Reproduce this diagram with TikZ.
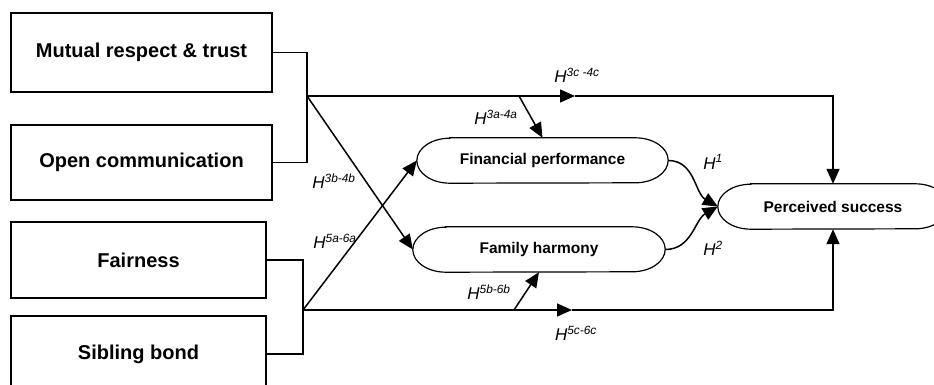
\documentclass[tikz,border=0pt]{standalone}
\usepackage{fontspec}
\setmainfont{Liberation Sans}
\usepackage{tikz}
\usetikzlibrary{positioning, arrows.meta}

\begin{document}
\begin{tikzpicture}[x=1pt, y=-1pt,
  factor/.style={draw, line width=1.2pt, minimum width=#1, inner sep=0pt, font=\fontsize{20}{23}\selectfont\bfseries},
  outcome/.style={minimum width=#1, minimum height=45pt, inner sep=0pt, font=\fontsize{15.5}{18}\selectfont\bfseries},
  hyp/.style={inner sep=0pt, font=\fontsize{17}{20}\selectfont\itshape},
  link/.style={line width=1.2pt},
  arr/.style={line width=1.5pt, -{Triangle[length=15pt,width=13pt]}}]
\useasboundingbox (0,0) rectangle (934,385);
\clip (0,0) rectangle (934,385);
% antecedents
\node [factor=261pt, minimum height=79pt] (mrt) at (141.5, 52.5) {Mutual respect \& trust};
\node [factor=261pt, minimum height=75pt] (oc) at (141.5, 162.5) {Open communication};
\node [factor=255pt, minimum height=76pt] (fair) at (138.5, 260) {Fairness};
\node [factor=255pt, minimum height=76pt] (sib) at (138.5, 354) {Sibling bond};
% outcomes
\node [outcome=251pt] (fp) at (542.5, 160.5) {Financial performance};
\node [outcome=252pt] (fh) at (539, 249.5) {Family harmony};
\node [outcome=230pt] (ps) at (833, 206.5) {Perceived success};
\foreach \n in {fp, fh, ps}
  \draw [link] ([xshift=33pt]\n.north west) -- ([xshift=-33pt]\n.north east)
    arc [start angle=90, end angle=-90, x radius=33pt, y radius=22.5pt]
    -- ([xshift=33pt]\n.south west)
    arc [start angle=270, end angle=90, x radius=33pt, y radius=22.5pt] -- cycle;
% junctions
\coordinate (j1) at (307, 96);
\coordinate (j2) at (303, 310);
\coordinate (m1) at (575, 96);
\coordinate (m2) at (572, 310);
\coordinate (b1) at (519, 96);
\coordinate (b2) at (514, 310);
\draw [link] (mrt.east) -| (j1);
\draw [link] (oc.east) -| (j1);
\draw [link] (fair.east) -| (j2);
\draw [link] (sib.east) -| (j2);
% paths
\draw [arr] (j1) -- (m1);
\draw [arr] (m1) -| (ps.north);
\draw [arr] (b1) -- (fp.north);
\draw [arr] (j1) -- (fh.west);
\draw [arr] (j2) -- (fp.west);
\draw [arr] (j2) -- (m2);
\draw [arr] (m2) -| (ps.south);
\draw [arr] (b2) -- (fh.south);
\draw [arr] (fp.east) to [out=0, in=150] (ps.west);
\draw [arr] (fh.east) to [out=0, in=210] (ps.west);
% labels
\node [hyp] (h3c) at (577, 75) {H\textsuperscript{3c -4c}};
\node [hyp] (h3a) at (496, 117) {H\textsuperscript{3a-4a}};
\node [hyp] (h3b) at (334, 181) {H\textsuperscript{3b-4b}};
\node [hyp] (h5a) at (335, 241) {H\textsuperscript{5a-6a}};
\node [hyp] (h5b) at (489, 292) {H\textsuperscript{5b-6b}};
\node [hyp] (h5c) at (576, 333) {H\textsuperscript{5c-6c}};
\node [hyp] (h1) at (713, 162) {H\textsuperscript{1}};
\node [hyp] (h2) at (713, 248) {H\textsuperscript{2}};
\end{tikzpicture}
\end{document}
